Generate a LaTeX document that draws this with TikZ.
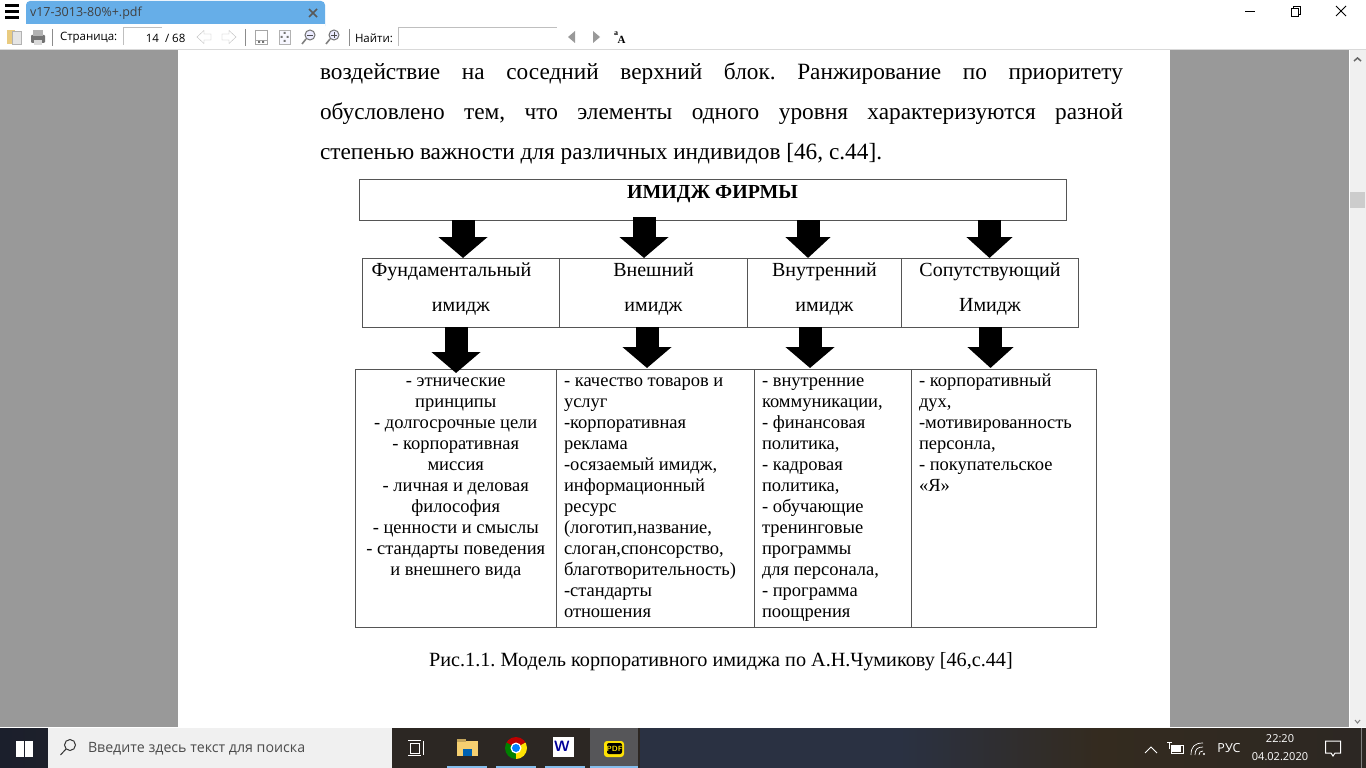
\documentclass[tikz,border=0pt]{standalone}
\usepackage{fontspec}
\setmainfont{Liberation Serif}
\newfontfamily\uifont{Open Sans}
\usetikzlibrary{arrows.meta, positioning, calc}
\definecolor{PageGray}{HTML}{999999}
\definecolor{TabBlue}{HTML}{66AEE8}
\definecolor{BoxLine}{HTML}{555555}
\definecolor{BarDark}{HTML}{1B1F2C}
\definecolor{BarBrown}{HTML}{2C2723}
\definecolor{BarNavy}{HTML}{2A3142}
\definecolor{BarTan}{HTML}{342B1F}
\definecolor{BarSlate}{HTML}{565659}
\definecolor{SearchGray}{HTML}{F0F0F0}
\definecolor{FolderTan}{HTML}{E9CB80}
\definecolor{FolderYellow}{HTML}{F5CF70}
\frenchspacing
\begin{document}
\begin{tikzpicture}[
        x=1pt, y=-1pt, inner sep=0pt, outer sep=0pt,
        headbox/.style={draw=BoxLine, line width=1pt, fill=white, minimum height=69pt},
        listbox/.style={draw=BoxLine, line width=1pt, fill=white, minimum height=258pt},
        headtext/.style={font=\fontsize{20}{35}\selectfont, align=center},
        listtext/.style={font=\fontsize{18.5}{21}\selectfont, align=left, anchor=north west},
        bodytext/.style={font=\fontsize{23.3}{40}\selectfont},
        fatarrow/.style={line width=23pt, -{Triangle[length=21pt, width=#1]}},
        fatarrow/.default=48pt,
        uitext/.style={font=\uifont\fontsize{11.5}{14}\selectfont, anchor=west},
        bartext/.style={font=\uifont\fontsize{12.5}{15}\selectfont, text=white, align=center}
    ]
        \useasboundingbox (0,0) rectangle (1366,768);
        % page and window
        \fill[white] (0,0) rectangle (1366,768);
        \fill[PageGray] (0,50) rectangle (178,727);
        \fill[PageGray] (1170,50) rectangle (1349,727);
        \fill[SearchGray] (1350,50) rectangle (1366,727);
        \fill[black!20] (1350,192) rectangle (1365,208);
        \draw[black!15] (0,49.5) -- (1366,49.5);
        \draw[line width=1.5pt, black!60] (1354,61) -- (1357.5,58) -- (1361,61);
        \draw[line width=1pt, black!50] (1355,720) -- (1357.5,723) -- (1360,720);
        % title bar
        \fill[TabBlue, rounded corners=4pt] (26,1) rectangle (325,30);
        \fill[white] (26,24) rectangle (325,31);
        \foreach \y in {6,12,18} \fill[black] (5,\y-1.5) rectangle (19,\y+1.5);
        \node[uitext, text=black!75, font=\uifont\fontsize{12.5}{15}\selectfont] (tabname) at (30,13) {v17-3013-80\%+.pdf};
        \draw[line width=1.6pt, black!65] (309,9) -- (317,17) (317,9) -- (309,17);
        \draw[line width=.8pt] (1245,11.5) -- (1255,11.5);
        \draw[line width=.8pt] (1291,8.5) rectangle (1298,16) (1293,8.5) -- (1293,6.5) -- (1300,6.5) -- (1300,14) -- (1298,14);
        \draw[line width=.8pt] (1336,6) -- (1346,16) (1346,6) -- (1336,16);
        % toolbar
        \fill[FolderTan] (7,30) rectangle (15,44);
        \fill[black!10, draw=black!30] (12,31) rectangle (21,44);
        \fill[black!55, rounded corners=1pt] (31,35) rectangle (45,43);
        \fill[black!30] (33,30) rectangle (43,36);
        \fill[black!15] (34,40) rectangle (42,45);
        \foreach \x in {52.5,245,349} \draw[black!45] (\x,29) -- (\x,46);
        \node[uitext] (pagelabel) at (60,38) {Страница:};
        \draw[black!25] (123,45) -- (123,27.5) -- (162,27.5);
        \node[uitext, anchor=east] (pagenum) at (159,38) {14};
        \node[uitext] (pagetotal) at (165,38) {/ 68};
        \foreach \x/\s in {204/1,229/-1} \draw[black!25, fill=white] (\x-\s*7,37) -- (\x,30.5) -- (\x,34) -- (\x+\s*7,34) -- (\x+\s*7,40) -- (\x,40) -- (\x,43.5) -- cycle;
        \draw[black!35] (255,30) -- (267,30) (255,40) rectangle (267,44) (255,30) -- (255,44) (267,30) -- (267,44);
        \fill[black!55] (258,41) rectangle (260,43) (262,41) rectangle (264,43);
        \draw[black!30, fill=blue!3] (279,30) rectangle (290,44);
        \fill[black!55] (283.5,32) rectangle (285.5,34) (283.5,40) rectangle (285.5,42) (280.5,36) rectangle (282.5,38) (286.5,36) rectangle (288.5,38);
        \foreach \x in {310,334} {
            \draw[black!55, fill=blue!8, line width=1pt] (\x,35) circle (5pt);
            \draw[black!50, line width=1.6pt] (\x-4,39) -- (\x-8,44);
            \draw[black!70] (\x-3,35) -- (\x+3,35);
        }
        \draw[black!70] (334,32) -- (334,38);
        \node[uitext] (findlabel) at (355,38) {Найти:};
        \draw[black!25] (398.5,46) -- (398.5,27.5) -- (557,27.5);
        \fill[black!40] (568,37) -- (575,31) -- (575,43) -- cycle;
        \fill[black!40] (600,37) -- (593,31) -- (593,43) -- cycle;
        \node[font=\bfseries\fontsize{8}{8}\selectfont] (fontlabela) at (616,34) {a};
        \node[font=\bfseries\fontsize{11}{11}\selectfont] (fontlabelb) at (621.5,40) {A};
        % text above the figure
        \node[bodytext, anchor=north west, text width=803pt, align=justify] (para) at (320,63) {воздействие на соседний верхний блок. Ранжирование по приоритету\linebreak обусловлено тем, что элементы одного уровня характеризуются разной\linebreak степенью важности для различных индивидов [46, с.44].};
        % figure boxes
        \node[draw=BoxLine, line width=1pt, fill=white, minimum width=707pt, minimum height=41pt] (firm) at (713,199.5) {};
        \node[font=\bfseries\fontsize{19.9}{22}\selectfont] (firmtext) at (712.5,194) {ИМИДЖ ФИРМЫ};
        \node[headbox, minimum width=197pt, anchor=north west] (fund) at (362.5,258) {};
        \node[headbox, minimum width=188pt, right=0pt of fund] (ext) {};
        \node[headbox, minimum width=154pt, right=0pt of ext] (int) {};
        \node[headbox, minimum width=177pt, right=0pt of int] (acc) {};
        \node[headtext, anchor=north] (fundtext) at ($(fund.north)+(0,5)$) {Фундаментальный\hspace*{19pt}\\имидж};
        \node[headtext, anchor=north] (exttext) at ($(ext.north)+(0,5)$) {Внешний\\имидж};
        \node[headtext, anchor=north] (inttext) at ($(int.north)+(0,5)$) {Внутренний\\имидж};
        \node[headtext, anchor=north] (acctext) at ($(acc.north)+(0,5)$) {Сопутствующий\\Имидж};
        \node[listbox, minimum width=200.5pt, anchor=north west] (fundlist) at (355.5,369) {};
        \node[listbox, minimum width=198pt, right=0pt of fundlist] (extlist) {};
        \node[listbox, minimum width=157pt, right=0pt of extlist] (intlist) {};
        \node[listbox, minimum width=185pt, right=0pt of intlist] (acclist) {};
        \node[listtext, align=center, anchor=north] (fundlisttext) at ($(fundlist.north)+(0,9)$) {- этнические\\принципы\\- долгосрочные цели\\- корпоративная\\миссия\\- личная и деловая\\философия\\- ценности и смыслы\\- стандарты поведения\\и внешнего вида};
        \node[listtext] (extlisttext) at ($(extlist.north west)+(8,9)$) {- качество товаров и\\услуг\\-корпоративная\\реклама\\-осязаемый имидж,\\информационный\\ресурс\\(логотип,название,\\слоган,спонсорство,\\благотворительность)\\-стандарты\\отношения};
        \node[listtext] (intlisttext) at ($(intlist.north west)+(8,9)$) {- внутренние\\коммуникации,\\- финансовая\\политика,\\- кадровая\\политика,\\- обучающие\\тренинговые\\программы\\для персонала,\\- программа\\поощрения};
        \node[listtext] (acclisttext) at ($(acclist.north west)+(8,5)$) {- корпоративный\\дух,\\-мотивированность\\персонла,\\- покупательское\\«Я»};
        \node[font=\fontsize{20.2}{22}\selectfont] (caption) at (721,661.5) {Рис.1.1. Модель корпоративного имиджа по А.Н.Чумикову [46,с.44]};
        % arrows between the rows
        \foreach \name/\x in {afund/463,aext/644,aint/808,aacc/989.5} \coordinate (\name) at (\x,0);
        \foreach \name/\x in {bfund/456,bext/647,bint/810,bacc/990.5} \coordinate (\name) at (\x,0);
        \draw[fatarrow] (firm.south -| afund) -- (fund.north -| afund);
        \draw[fatarrow, shorten <=-3pt] (firm.south -| aext) -- (fund.north -| aext);
        \draw[fatarrow=44pt] (firm.south -| aint) -- (fund.north -| aint);
        \draw[fatarrow=45pt] (firm.south -| aacc) -- (fund.north -| aacc);
        \draw[fatarrow, shorten >=-4pt] (fund.south -| bfund) -- (fundlist.north -| bfund);
        \draw[fatarrow, shorten >=1pt] (fund.south -| bext) -- (fundlist.north -| bext);
        \draw[fatarrow, shorten >=1pt] (fund.south -| bint) -- (fundlist.north -| bint);
        \draw[fatarrow=45pt, shorten >=1pt] (fund.south -| bacc) -- (fundlist.north -| bacc);
        % task bar
        \foreach \xa/\xb/\ca/\cb in {0/400/BarDark/BarBrown,400/640/BarBrown/BarBrown,640/900/BarNavy/BarNavy,900/1100/BarNavy/BarTan,1100/1366/BarTan/BarBrown}
            \shade[left color=\ca, right color=\cb] (\xa,728) rectangle (\xb,768);
        \fill[SearchGray] (48,728) rectangle (392,768);
        \foreach \x/\y in {16/741,25/741,16/749,25/749} \fill[white] (\x,\y) rectangle (\x+7.5,\y+7.5);
        \draw[black!80, line width=1pt] (70,745) circle (5.5pt) (66,749) -- (60.5,755);
        \node[uitext, text=black!70, font=\uifont\fontsize{14.2}{16}\selectfont] (searchtext) at (88,749) {Введите здесь текст для поиска};
        % task view
        \draw[white] (410,743) rectangle (419,753) (408,740.5) -- (421,740.5) (408,755.5) -- (421,755.5) (423,741) -- (423,755);
        % app icons
        \fill[BarSlate] (590,728) rectangle (638,768);
        \fill[FolderYellow] (457,741) rectangle (478,756);
        \fill[FolderYellow!80!black] (457,739) rectangle (466,742);
        \fill[blue!45!cyan!70!black] (463,749) rectangle (472,756);
        \begin{scope}
            \clip (516,748) circle (11pt);
            \fill[red!75!black] (516,748) -- (497,737) -- (497,728) -- (535,728) -- (535,737) -- cycle;
            \fill[green!50!black] (516,748) -- (497,737) -- (497,770) -- (516,770) -- cycle;
            \fill[yellow!85!orange] (516,748) -- (516,770) -- (535,770) -- (535,737) -- cycle;
        \end{scope}
        \fill[white] (516,748) circle (5.5pt);
        \fill[blue!50!cyan] (516,748) circle (4pt);
        \fill[white] (553,737) rectangle (574,757);
        \node[font=\bfseries\sffamily\fontsize{15}{15}\selectfont, text=blue!60!black] (wordicon) at (562,746) {W};
        \fill[yellow!85!orange, rounded corners=3pt] (604,741) rectangle (624,757);
        \fill[black, rounded corners=2pt] (607,743) rectangle (622,754);
        \node[font=\bfseries\sffamily\fontsize{7.5}{8}\selectfont, text=yellow!85!orange] (pdficon) at (614.5,749) {PDF};
        \foreach \xa/\xb in {447/487,496/536,545/585,590/638} \fill[TabBlue!80] (\xa,766) rectangle (\xb,768);
        % tray
        \draw[white, line width=1pt] (1145,753) -- (1151,747) -- (1157,753);
        \draw[white, line width=1pt] (1171,745) rectangle (1183,753);
        \fill[white] (1172,746) rectangle (1181,752);
        \draw[white, line width=1pt] (1167,742) -- (1172,742) (1169.5,742) -- (1169.5,749);
        \foreach \r in {4,8,12} \draw[white, line width=.7pt] (1203-\r,755) .. controls (1203-\r,755-.7*\r) and (1203-.7*\r,755-\r) .. (1203,755-\r);
        \fill[white] (1204,754) circle (1.2pt);
        \node[bartext] (lang) at (1229,748) {РУС};
        \node[bartext, font=\uifont\fontsize{11}{18}\selectfont] (clock) at (1280,748) {22:20\\04.02.2020};
        \draw[white, line width=1pt] (1325.5,741) -- (1340.5,741) -- (1340.5,753) -- (1335,753) -- (1333,756) -- (1331,753) -- (1325.5,753) -- cycle;
        \draw[black!50] (1361,728) -- (1361,768);
    \end{tikzpicture}
\end{document}
